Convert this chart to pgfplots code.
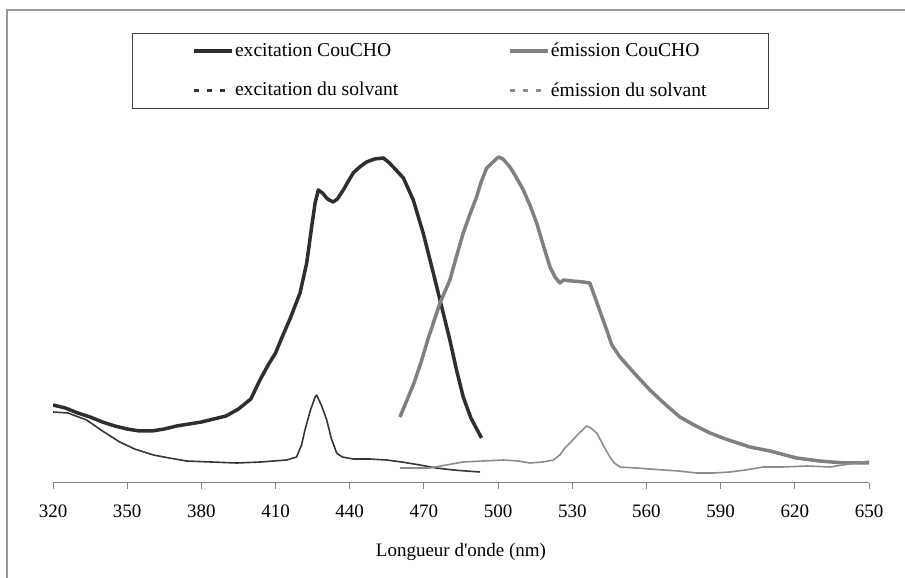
\documentclass[border=0pt]{standalone}
\usepackage{fontspec}
\setmainfont{Liberation Serif}
\usepackage{pgfplots}
\pgfplotsset{compat=1.18}
\definecolor{excC}{HTML}{2E2E2E}
\definecolor{emiC}{HTML}{808080}
\definecolor{excS}{HTML}{363636}
\definecolor{emiS}{HTML}{8C8C8C}
\begin{document}
\fontsize{19}{22}\selectfont
\begin{tikzpicture}
\useasboundingbox (0,0) rectangle (905pt,578pt);
\draw[gray!80, line width=1.2pt] (7pt,0) -- (7pt,568pt) -- (905pt,568pt);
\begin{axis}[
  at={(53pt,95pt)}, anchor=south west,
  scale only axis, width=816pt, height=460pt,
  xmin=320, xmax=650, ymin=0, ymax=460,
  axis x line*=bottom, axis y line=none,
  x axis line style={draw=gray, line width=1pt},
  xtick={320,350,...,650},
  tick align=outside, major tick length=6pt,
  xtick style={draw=gray, line width=1pt},
  /pgf/number format/assume math mode=true,
  xticklabel style={font=\fontsize{19}{22}\selectfont, yshift=-9pt},
  every axis x label/.style={at={(axis description cs:0.5,0)}, anchor=center, yshift=-69pt, font=\fontsize{19}{22}\selectfont},
  xlabel={Longueur d\textquotesingle onde (nm)},
  legend columns=2,
  legend cell align=left,
  legend style={at={(axis cs:351.8,450)}, anchor=north west, draw=black!75, line width=0.8pt,
    inner xsep=60pt, inner ysep=8pt, row sep=20pt,
    font=\fontsize{19.6}{22}\selectfont,
    nodes={inner sep=1.5pt},
    /tikz/every even column/.append style={column sep=108pt}},
  legend image code/.code={\draw[#1] (0pt,0pt) -- (38pt,0pt);},
]
\addplot[color=excC, line width=3.5pt, line join=round] coordinates {
(320,78)(325,75)(330,70)(335,66)(340,61)(345,57)(350,54)(355,52)(360,52)(365,54)
(370,57)(375,59)(380,61)(385,64)(390,67)(395,74)(400,84)(403.7,103)(407,118)(410,130)
(412.5,145)(416,165)(419.9,190)(422.6,220)(424.6,256)(426,280)(427.3,293)(429,290)(431,284)(433.3,281)
(435,284)(437.4,293)(439,300)(441.4,310)(444,316)(446.8,321)(450,324)(453.6,325)(455.6,321)(458,315)
(461.7,305)(465.7,283)(469.7,250)(473.8,210)(477.8,170)(480.5,143)(483,115)(485.9,86)(489,65)(493.3,45)
};
\addlegendentry{excitation CouCHO}
\addplot[color=emiC, line width=3.5pt, line join=round] coordinates {
(460.3,66)(463,82)(466,100)(469,122)(471.8,145)(476.5,180)(480.5,203)(483,225)(485.9,250)(488.5,268)
(491.3,286)(493,300)(495.4,315)(497.5,320)(500.1,326)(502,324)(504.8,316)(507.5,305)(510.2,293)(513,277)
(515.6,260)(518,240)(521,216)(523,206)(525,200)(526.4,203)(530,202)(534.4,201)(537.1,200)(540,180)
(543.9,153)(546,138)(549.3,126)(555,110)(561.4,93)(567,80)(573.5,66)(580,57)(585.7,50)(592,44)
(601.8,36)(610,32)(620.7,25)(630,22)(640,20)(650.4,20)
};
\addlegendentry{émission CouCHO}
\addplot[color=excS, line width=1.6pt, line join=round,
  legend image post style={line width=3pt, dash pattern=on 5pt off 8pt}] coordinates {
(320,71)(326,70)(333.6,63)(340,52)(347,41)(353,34)(360.6,28)(367,25)(374,22)(384,21)
(394.3,20)(404,21)(414.5,23)(418.5,26)(420.5,38)(421.9,53)(424,72)(426,86)(426.6,88)(428.5,78)
(430.7,63)(432.5,45)(434.7,30)(437,26)(441.4,24)(448,24)(454.9,23)(461,21)(468.4,18)(475,15)
(481.9,13)(487,12)(492.7,11)
};
\addlegendentry{excitation du solvant}
\addplot[color=emiS, line width=1.6pt, line join=round,
  legend image post style={line width=3pt, dash pattern=on 5pt off 8pt}] coordinates {
(460.3,15)(466,15)(472.4,15)(479,18)(485.9,21)(494,22)(502.1,23)(508,22)(512.9,20)(518,21)
(522.3,23)(525,28)(527,35)(529.1,40)(532,48)(535.8,57)(537.5,55)(539.9,50)(542.5,38)(545.2,26)
(547,20)(549.3,16)(556,15)(566.8,13)(573,12)(580.3,10)(587,10)(593.8,11)(600,13)(607.2,16)
(615,16)(625,17)(634.2,16)(642,19)(650.4,22)
};
\addlegendentry{émission du solvant}
\end{axis}
\end{tikzpicture}
\end{document}
